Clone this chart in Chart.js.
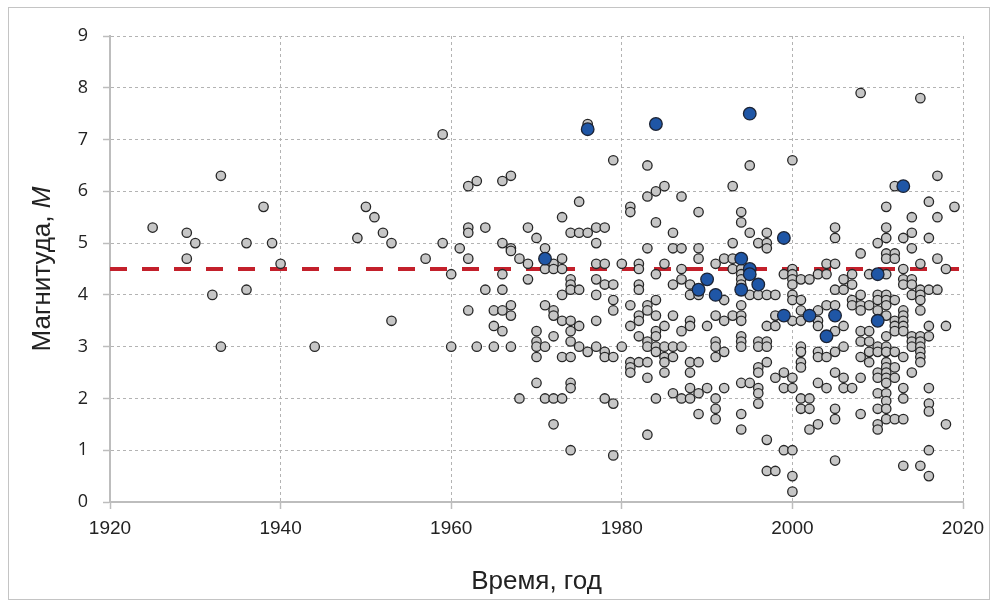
<!DOCTYPE html>
<html>
<head>
<meta charset="utf-8">
<script src="https://cdn.jsdelivr.net/npm/chart.js@4.4.0/dist/chart.umd.min.js"></script>
<style>
  html, body { margin: 0; padding: 0; background: #fff; }
  canvas { display: block; }
</style>
</head>
<body>
<canvas id="quakeCanvas" width="997" height="607"></canvas>
<script>
// Gray points: [year, magnitudes at that year]
const grayByYear = [
    [1925, [5.3]], [1929, [5.2, 4.7]], [1930, [5.0]], [1932, [4.0]], [1933, [6.3, 3.0]],
    [1936, [5.0, 4.1]], [1938, [5.7]], [1939, [5.0]], [1940, [4.6]], [1944, [3.0]],
    [1949, [5.1]], [1950, [5.7]], [1951, [5.5]], [1952, [5.2]], [1953, [5.0, 3.5]],
    [1957, [4.7]], [1959, [7.1, 5.0]], [1960, [4.4, 3.0]], [1961, [4.9]],
    [1962, [6.1, 5.3, 5.2, 4.7, 3.7]], [1963, [6.2, 3.0]], [1964, [5.3, 4.1]],
    [1965, [3.7, 3.4, 3.0]], [1966, [6.2, 5.0, 4.4, 4.1, 3.7, 3.3]],
    [1967, [6.3, 4.9, 4.85, 3.8, 3.6, 3.0]], [1968, [4.7, 2.0]], [1969, [5.3, 4.6, 4.3]],
    [1970, [5.1, 3.3, 3.1, 3.0, 2.8, 2.3]], [1971, [4.9, 4.5, 3.8, 3.0, 2.0]],
    [1972, [4.6, 4.5, 3.7, 3.6, 3.2, 2.0, 1.5]], [1973, [5.5, 4.7, 4.5, 4.0, 3.5, 2.8, 2.0]],
    [1974, [5.2, 4.3, 4.2, 4.1, 3.5, 3.3, 3.1, 2.8, 2.3, 2.2, 1.0]],
    [1975, [5.8, 5.2, 4.1, 3.4, 3.0]], [1976, [7.3, 5.2, 2.9]],
    [1977, [5.3, 5.0, 4.6, 4.3, 4.0, 3.5, 3.0]], [1978, [5.3, 4.6, 4.2, 2.9, 2.8, 2.0]],
    [1979, [6.6, 4.2, 3.9, 3.7, 2.8, 1.9, 0.9]], [1980, [4.6, 3.0]],
    [1981, [5.7, 5.6, 3.8, 3.4, 2.7, 2.6, 2.5]], [1982, [4.6, 4.5, 4.2, 4.1, 3.6, 3.5, 3.2, 2.7]],
    [1983, [6.5, 5.9, 4.9, 3.8, 3.7, 3.1, 3.0, 2.7, 2.4, 1.3]],
    [1984, [6.0, 5.4, 4.4, 3.9, 3.6, 3.3, 3.2, 3.0, 2.9, 2.0]],
    [1985, [6.1, 4.6, 3.4, 3.0, 2.8, 2.7, 2.5]], [1986, [5.2, 4.9, 4.2, 3.6, 3.0, 2.8, 2.1]],
    [1987, [5.9, 4.9, 4.5, 4.3, 3.3, 3.0, 2.0]], [1988, [4.2, 4.0, 3.5, 3.4, 2.7, 2.5, 2.2, 2.0]],
    [1989, [5.6, 4.9, 4.7, 4.0, 2.7, 2.1, 1.7]], [1990, [3.4, 2.2]],
    [1991, [4.6, 3.6, 3.1, 3.0, 2.8, 2.0, 1.8, 1.6]], [1992, [4.7, 3.9, 3.5, 2.9, 2.2]],
    [1993, [6.1, 5.0, 4.7, 4.5, 3.6]],
    [1994, [5.6, 5.4, 4.5, 4.4, 4.3, 4.2, 3.8, 3.6, 3.5, 3.2, 3.1, 3.0, 2.3, 1.7, 1.4]],
    [1995, [6.5, 5.2, 4.0, 2.3]], [1996, [5.0, 4.0, 3.1, 3.0, 2.6, 2.5, 2.2, 2.1, 1.9]],
    [1997, [5.2, 5.0, 4.9, 4.0, 3.4, 3.1, 3.0, 2.7, 1.2, 0.6]], [1998, [4.0, 3.6, 3.4, 2.4, 0.6]],
    [1999, [4.4, 2.5, 2.2, 1.0]],
    [2000, [6.6, 4.5, 4.4, 4.3, 4.2, 4.0, 3.9, 3.5, 2.4, 2.2, 1.0, 0.5, 0.2]],
    [2001, [4.3, 3.9, 3.7, 3.5, 3.0, 2.9, 2.7, 2.6, 2.0, 1.8]], [2002, [4.3, 2.0, 1.8, 1.4]],
    [2003, [4.4, 3.7, 3.5, 3.4, 2.9, 2.8, 2.3, 1.5]], [2004, [4.6, 4.4, 3.8, 2.8, 2.2]],
    [2005, [5.3, 5.1, 4.6, 4.1, 3.8, 3.3, 2.9, 2.5, 1.8, 1.6, 0.8]],
    [2006, [4.3, 4.1, 3.4, 3.0, 2.4, 2.2]], [2007, [4.4, 4.2, 3.9, 3.8, 2.2]],
    [2008, [7.9, 4.8, 4.0, 3.8, 3.7, 3.3, 3.1, 2.8, 2.4, 1.7]], [2009, [4.4, 3.8, 3.3, 3.1, 2.9, 2.7]],
    [2010, [5.0, 4.0, 3.9, 3.7, 3.0, 2.9, 2.5, 2.4, 2.1, 1.8, 1.5, 1.4]],
    [2011, [5.7, 5.3, 5.1, 4.8, 4.7, 4.4, 4.0, 3.9, 3.8, 3.6, 3.2, 3.0, 2.9, 2.7, 2.6, 2.5, 2.4, 2.3, 2.1, 1.95, 1.8, 1.6]],
    [2012, [6.1, 4.8, 4.7, 3.9, 3.5, 3.4, 3.3, 2.9, 2.6, 2.4, 1.6]],
    [2013, [5.1, 4.5, 4.3, 4.2, 3.7, 3.6, 3.5, 3.4, 3.3, 2.8, 2.2, 2.0, 1.6, 0.7]],
    [2014, [5.5, 5.2, 4.9, 4.3, 4.2, 4.0, 3.2, 3.1, 3.0, 2.5]],
    [2015, [7.8, 4.6, 4.1, 4.0, 3.9, 3.7, 3.2, 3.1, 3.0, 2.9, 2.8, 2.7, 0.7]],
    [2016, [5.8, 5.1, 4.1, 3.4, 3.2, 2.2, 1.9, 1.75, 1.0, 0.5]],
    [2017, [6.3, 5.5, 4.7, 4.1]], [2018, [4.5, 3.4, 1.5]], [2019, [5.7]]
];

// Blue (highlighted) events
const blueYears = [1971, 1976, 1984, 1989, 1990, 1991, 1994, 1994, 1995, 1995, 1995, 1996, 1999, 1999, 2002, 2004, 2005, 2010, 2010, 2013];
const blueMags  = [4.7, 7.2, 7.3, 4.1, 4.3, 4.0, 4.7, 4.1, 7.5, 4.5, 4.4, 4.2, 5.1, 3.6, 3.6, 3.2, 3.6, 4.4, 3.5, 6.1];

// Threshold line
const thresholdYears = [1920, 2020];
const thresholdMag = 4.5;

const xTicks = [1920, 1940, 1960, 1980, 2000, 2020];
const yTicks = [0, 1, 2, 3, 4, 5, 6, 7, 8, 9];

const grayPoints = [];
grayByYear.forEach(([yr, mags]) => mags.forEach(m => grayPoints.push({ x: yr, y: m })));
const bluePoints = blueYears.map((yr, i) => ({ x: yr, y: blueMags[i] }));
const linePoints = thresholdYears.map(yr => ({ x: yr, y: thresholdMag }));

const frame = {
    id: 'frame',
    beforeDraw(chart) {
        const ctx = chart.ctx;
        ctx.save();
        ctx.fillStyle = '#fff';
        ctx.fillRect(0, 0, chart.width, chart.height);
        ctx.strokeStyle = '#c4c4c4';
        ctx.lineWidth = 1;
        ctx.strokeRect(8.5, 7.5, 981, 592);
        ctx.restore();
    },
    afterDraw(chart) {
        // y-axis title with italic M
        const ctx = chart.ctx;
        const area = chart.chartArea;
        ctx.save();
        ctx.translate(43, (area.top + area.bottom) / 2);
        ctx.rotate(-Math.PI / 2);
        ctx.fillStyle = '#222';
        ctx.textBaseline = 'middle';
        const a = 'Магнитуда, ';
        ctx.font = '26px "Liberation Sans", Arial, sans-serif';
        const wa = ctx.measureText(a).width;
        ctx.font = 'italic 26px "Liberation Sans", Arial, sans-serif';
        const wb = ctx.measureText('M').width;
        const start = -(wa + wb) / 2;
        ctx.font = '26px "Liberation Sans", Arial, sans-serif';
        ctx.fillText(a, start, 0);
        ctx.font = 'italic 26px "Liberation Sans", Arial, sans-serif';
        ctx.fillText('M', start + wa, 0);
        ctx.restore();
    }
};

const ctx = document.getElementById('quakeCanvas').getContext('2d');
new Chart(ctx, {
    type: 'scatter',
    data: {
        datasets: [
            {
                data: bluePoints,
                pointRadius: 6.3,
                pointHoverRadius: 6.3,
                backgroundColor: '#1f56a6',
                borderColor: '#1c2333',
                borderWidth: 1.3
            },
            {
                data: grayPoints,
                pointRadius: 4.7,
                pointHoverRadius: 4.7,
                backgroundColor: '#c6c6c6',
                borderColor: '#262626',
                borderWidth: 1.3
            },
            {
                type: 'line',
                data: linePoints,
                borderColor: '#c3202b',
                borderWidth: 4,
                borderDash: [17, 15],
                pointRadius: 0,
                fill: false
            }
        ]
    },
    options: {
        responsive: false,
        animation: false,
        events: [],
        layout: { padding: { left: 0, right: 34, top: 36, bottom: 0 } },
        plugins: { legend: { display: false }, tooltip: { enabled: false } },
        scales: {
            x: {
                type: 'linear',
                min: 1920,
                max: 2020,
                afterBuildTicks: s => { s.ticks = xTicks.map(v => ({ value: v })); },
                ticks: {
                    color: '#222',
                    font: { family: '"Liberation Sans", Arial, sans-serif', size: 19 },
                    padding: 8,
                    maxRotation: 0,
                    callback: v => String(v)
                },
                grid: {
                    color: '#b3b3b3',
                    lineWidth: 1,
                    tickLength: 7,
                    tickColor: '#bdbdbd',
                    tickWidth: 1.5,
                    tickBorderDash: []
                },
                border: { color: '#bdbdbd', width: 2, dash: [3, 3] },
                title: {
                    display: true,
                    text: 'Время, год',
                    color: '#222',
                    font: { family: '"Liberation Sans", Arial, sans-serif', size: 26 },
                    padding: { top: 14, bottom: 10 }
                },
                afterFit: s => { s.height = 105; }
            },
            y: {
                min: 0,
                max: 9,
                afterBuildTicks: s => { s.ticks = yTicks.map(v => ({ value: v })); },
                ticks: {
                    color: '#222',
                    font: { family: '"Open Sans", sans-serif', size: 18 },
                    padding: 15
                },
                grid: {
                    color: '#b3b3b3',
                    lineWidth: 1,
                    tickLength: 7,
                    tickColor: '#bdbdbd',
                    tickWidth: 1.5,
                    tickBorderDash: []
                },
                border: { color: '#bdbdbd', width: 2, dash: [3, 3] },
                afterFit: s => { s.width = 110; }
            }
        }
    },
    plugins: [frame]
});
</script>
</body>
</html>
